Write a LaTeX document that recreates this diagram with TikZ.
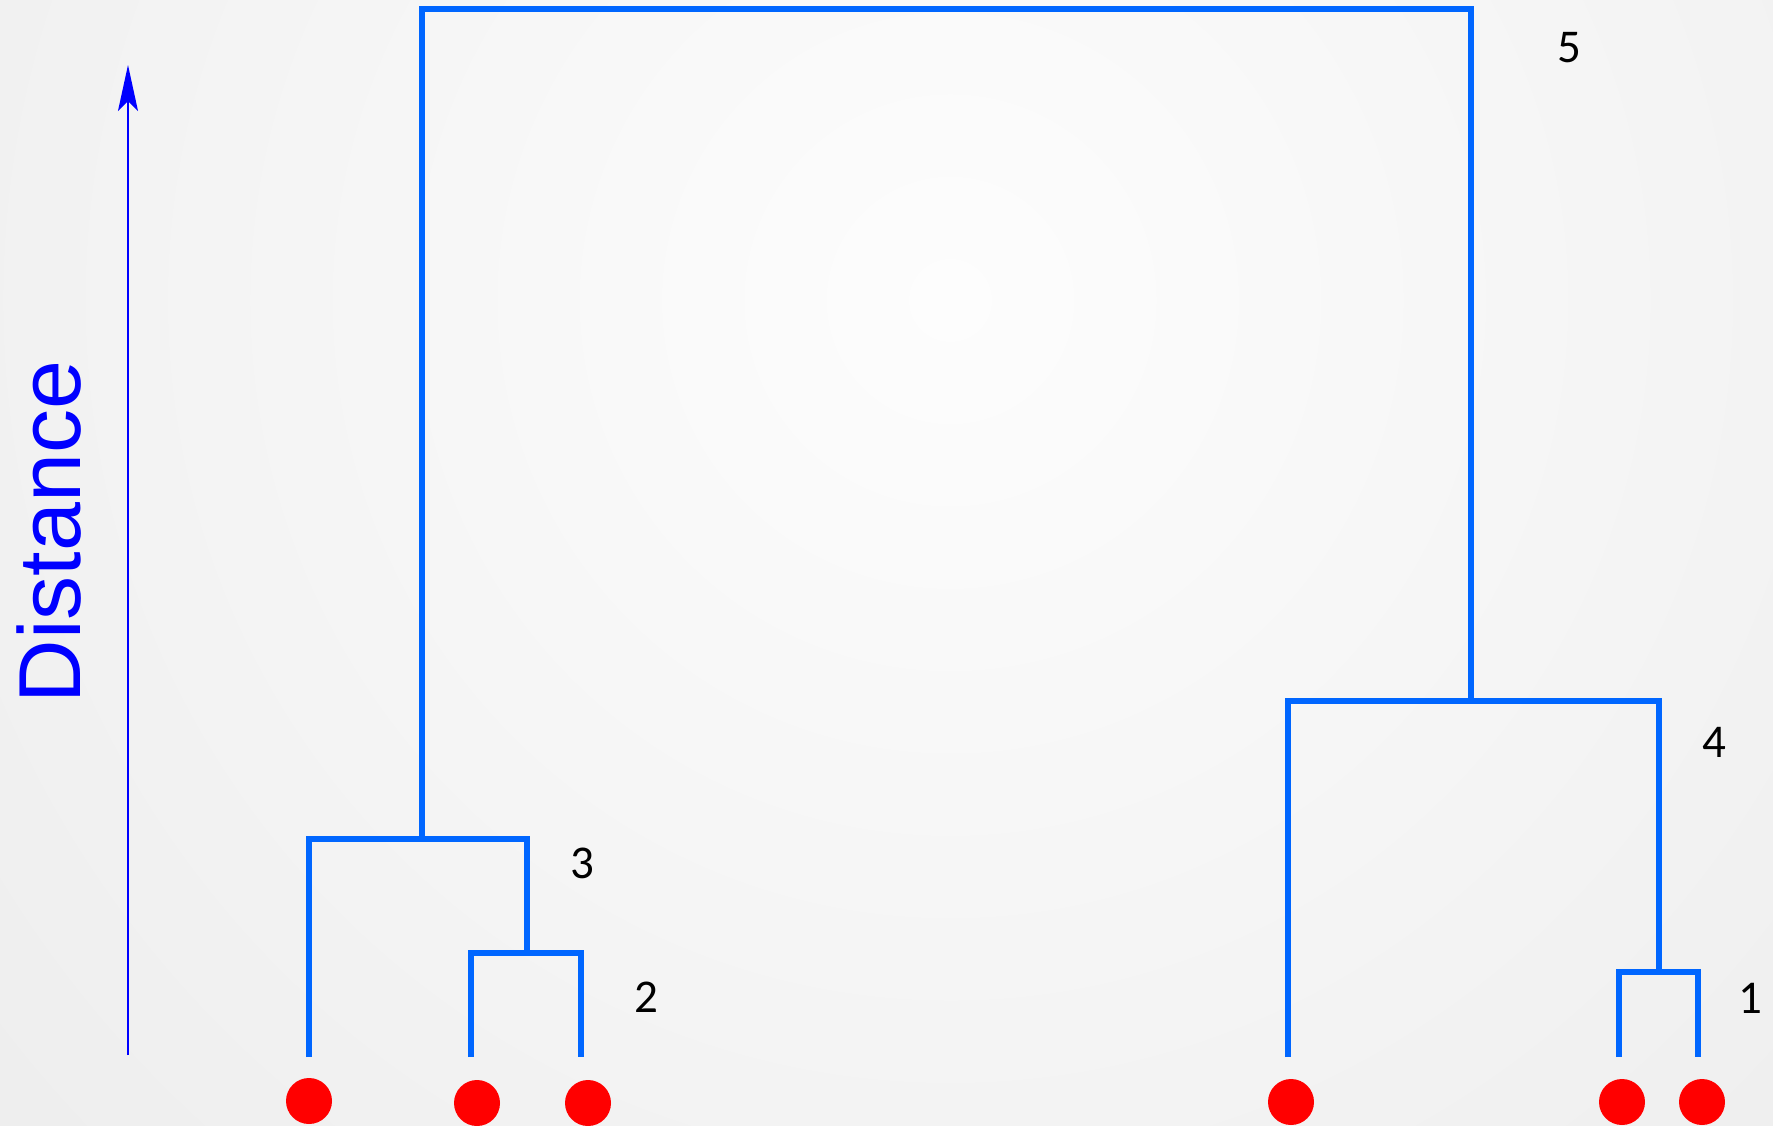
\documentclass[tikz,border=0pt]{standalone}
\usepackage{fontspec}
\setmainfont{Carlito}
\newfontfamily\arialfont{Liberation Sans}
\usetikzlibrary{arrows.meta}
\definecolor{dendblue}{RGB}{0,102,255}
\definecolor{axisblue}{RGB}{0,0,255}
\definecolor{dotred}{RGB}{255,0,0}
\definecolor{bgout}{RGB}{236,236,236}
\definecolor{bgin}{RGB}{253,253,253}
\tikzset{
  dline/.style={draw=dendblue, line width=6pt, line join=miter, line cap=butt},
  leafdot/.style={circle, fill=dotred, minimum size=46pt, inner sep=0pt},
  numlabel/.style={anchor=base, font=\fontsize{47}{50}\selectfont, text=black, inner sep=0pt},
  axisline/.style={draw=axisblue, line width=2pt, -{Stealth[length=46pt,width=20pt,inset=10pt]}},
}
\begin{document}
\begin{tikzpicture}[x=1pt,y=-1pt]
\useasboundingbox (0,0) rectangle (1773,1125);
\begin{scope}
\clip (0,0) rectangle (1773,1125);
\shade[inner color=bgin, outer color=bgout] (950,300) circle (1400);
\end{scope}

% axis
\coordinate (abot) at (128,1055);
\coordinate (atop) at (128,65);
\draw[axisline] (abot) -- (atop);
\node[rotate=90, anchor=base, inner sep=0pt, text=axisblue,
      font=\arialfont\fontsize{88}{90}\selectfont] (dist) at (80,532) {Distance};

% leaf ends
\coordinate (t1) at (309,1057);
\coordinate (t2) at (471,1057);
\coordinate (t3) at (581,1057);
\coordinate (t4) at (1288,1057);
\coordinate (t5) at (1619,1057);
\coordinate (t6) at (1698,1057);
% junctions
\coordinate (j2) at (527,953);
\coordinate (j3) at (422,839);
\coordinate (j1) at (1659,972);
\coordinate (j4) at (1471,701);
\coordinate (j5) at (946,9);

\draw[dline] (t2) |- (j2) -| (t3);
\draw[dline] (t1) |- (j3) -| (j2);
\draw[dline] (t5) |- (j1) -| (t6);
\draw[dline] (t4) |- (j4) -| (j1);
\draw[dline] (j3) |- (j5) -| (j4);

% dots
\node[leafdot] (d1) at (309,1101) {};
\node[leafdot] (d2) at (477,1103) {};
\node[leafdot] (d3) at (588,1103) {};
\node[leafdot] (d4) at (1291,1102) {};
\node[leafdot] (d5) at (1622,1102) {};
\node[leafdot] (d6) at (1702,1102) {};

% labels
\node[numlabel] (n5) at (1569,62) {5};
\node[numlabel] (n4) at (1714,757) {4};
\node[numlabel] (n3) at (582,878) {3};
\node[numlabel] (n2) at (646,1012) {2};
\node[numlabel] (n1) at (1750,1013) {1};
\end{tikzpicture}
\end{document}
